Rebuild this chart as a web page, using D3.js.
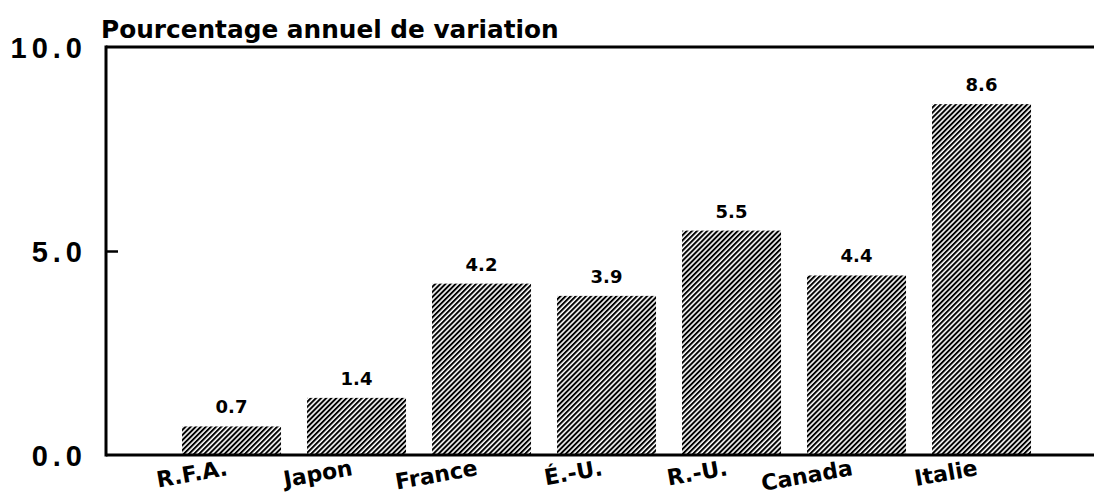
<!DOCTYPE html>
<html>
<head>
<meta charset="utf-8">
<script src="https://cdn.jsdelivr.net/npm/d3@7"></script>
<style>
  html, body { margin: 0; padding: 0; background: #fff; }
  svg { display: block; }
  text { font-family: "DejaVu Sans", "Liberation Sans", sans-serif; font-weight: bold; fill: #000; }
  text.ytick { font-family: "Liberation Sans", Arial, sans-serif; }
</style>
</head>
<body>
<svg id="chart" width="1094" height="497"></svg>
<script>
// ---- data ----
const categories = ["R.F.A.", "Japon", "France", "É.-U.", "R.-U.", "Canada", "Italie"];
const values = [0.7, 1.4, 4.2, 3.9, 5.5, 4.4, 8.6];
const yTickValues = [0, 5, 10];
const yTickLabels = ["0.0", "5.0", "10.0"];
const titleText = "Pourcentage annuel de variation";

// ---- layout ----
const axisX = 106, rightX = 1094;
const svg = d3.select("#chart");

const x = d3.scaleBand()
  .domain(categories)
  .range([axisX, rightX])
  .paddingInner(0.208)
  .paddingOuter(0.556)
  .align(0.547);

const y = d3.scaleLinear().domain([0, 10]).range([455, 47]);

// hatch pattern
const defs = svg.append("defs");
const pat = defs.append("pattern")
  .attr("id", "hatch")
  .attr("patternUnits", "userSpaceOnUse")
  .attr("width", 3.6).attr("height", 10)
  .attr("patternTransform", "rotate(45)");
pat.append("rect").attr("x", 0).attr("y", 0).attr("width", 2.0).attr("height", 10).attr("fill", "#000");

// bars
svg.append("g").selectAll("rect")
  .data(values)
  .join("rect")
  .attr("x", (d, i) => x(categories[i]))
  .attr("y", d => y(d))
  .attr("width", x.bandwidth())
  .attr("height", d => y(0) - y(d))
  .attr("fill", "url(#hatch)");

// value labels
const fmt = d3.format(".1f");
svg.append("g").selectAll("text")
  .data(values)
  .join("text")
  .attr("x", (d, i) => x(categories[i]) + x.bandwidth() / 2)
  .attr("y", d => y(d) - 13)
  .attr("text-anchor", "middle")
  .attr("font-size", 18)
  .text(d => fmt(d));

// inner tick at 5.0
const yAxis = d3.axisRight(y).tickValues([5]).tickSize(12).tickFormat("");
const ga = svg.append("g").attr("transform", `translate(${axisX},0)`).call(yAxis);
ga.select(".domain").remove();
ga.selectAll(".tick line").attr("stroke", "#000").attr("stroke-width", 2.5);

// frame lines: left axis, baseline, top line
svg.append("line").attr("x1", axisX).attr("x2", axisX).attr("y1", y(10) - 1.5).attr("y2", y(0) + 1.5)
  .attr("stroke", "#000").attr("stroke-width", 3);
svg.append("line").attr("x1", axisX).attr("x2", rightX).attr("y1", y(0)).attr("y2", y(0))
  .attr("stroke", "#000").attr("stroke-width", 3);
svg.append("line").attr("x1", axisX).attr("x2", rightX).attr("y1", y(10)).attr("y2", y(10))
  .attr("stroke", "#000").attr("stroke-width", 3);

// y tick labels
svg.append("g").selectAll("text")
  .data(yTickValues)
  .join("text")
  .attr("class", "ytick")
  .attr("x", 87)
  .attr("y", d => y(d) + 10.5)
  .attr("text-anchor", "end")
  .attr("font-size", 29)
  .attr("letter-spacing", 5)
  .text((d, i) => yTickLabels[i]);

// category labels (rotated)
svg.append("g").selectAll("text")
  .data(categories)
  .join("text")
  .attr("transform", d => `translate(${x(d) + x.bandwidth() / 2 - 3},475) rotate(-10)`)
  .attr("text-anchor", "end")
  .attr("font-size", 22)
  .text(d => d);

// title
const t = svg.append("text")
  .attr("x", 101).attr("y", 38)
  .attr("font-size", 24)
  .text(titleText);
const tw = t.node().getComputedTextLength();
t.attr("font-size", 24 * 458 / tw);
</script>
</body>
</html>
